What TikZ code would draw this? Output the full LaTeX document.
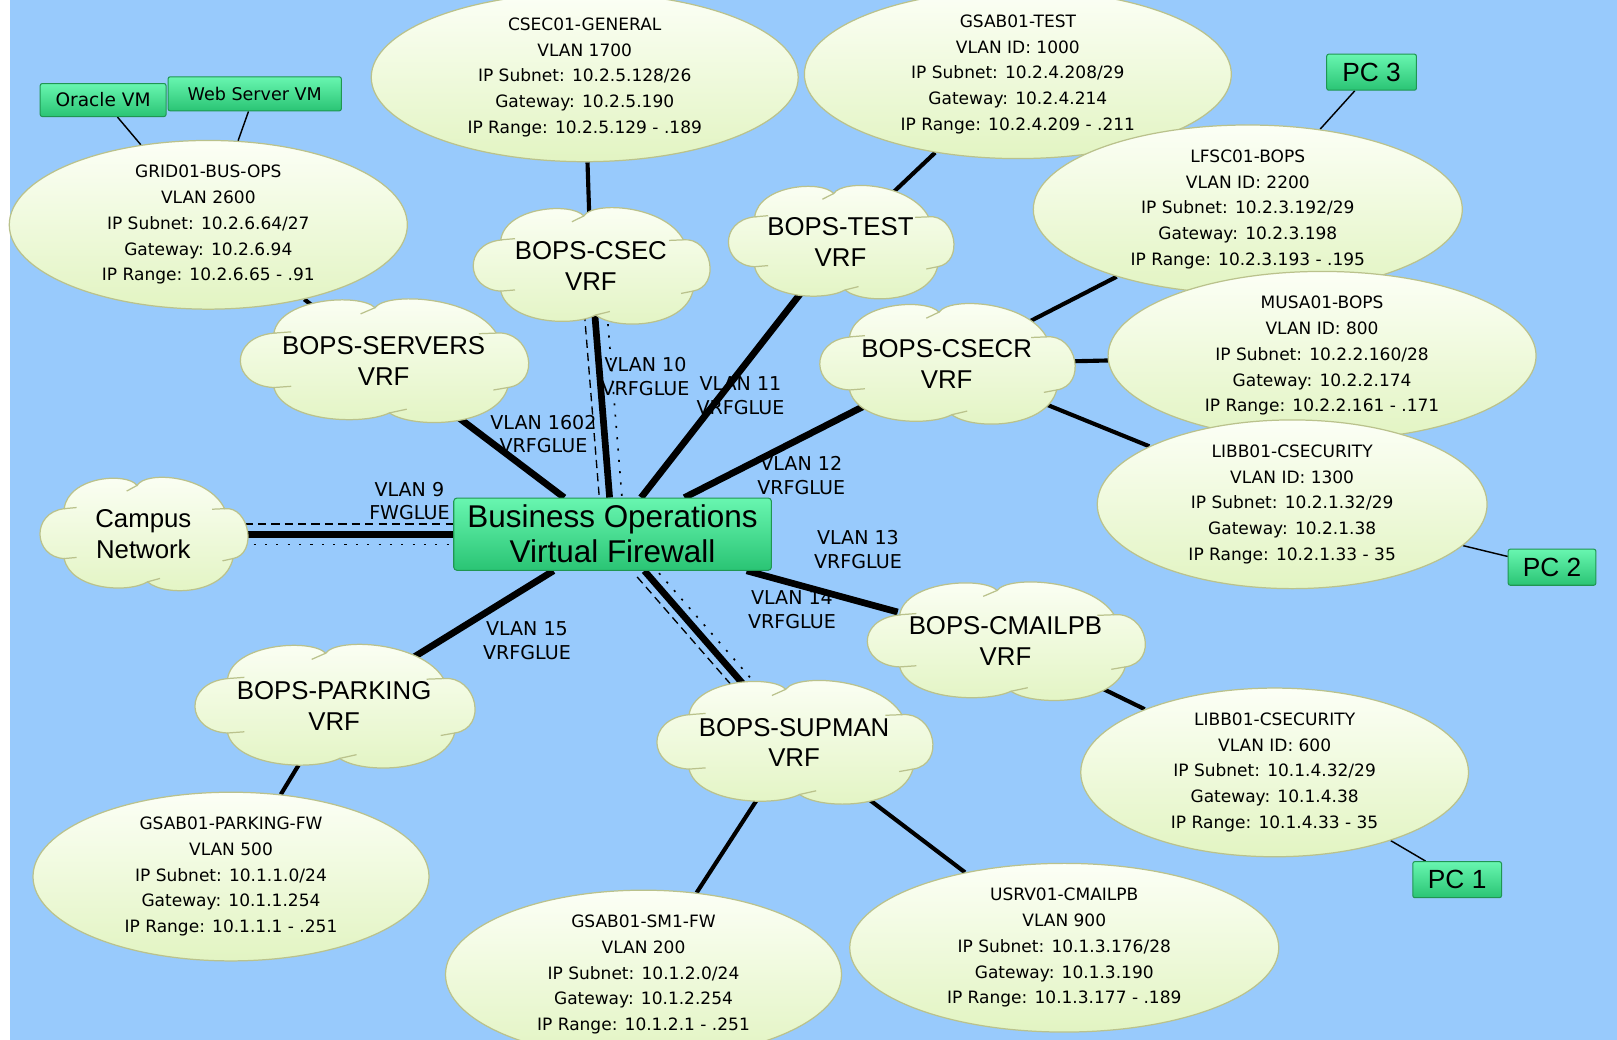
\documentclass[tikz,border=0pt]{standalone}
\usepackage{fontspec}
\setmainfont{Liberation Sans}
\newfontfamily\smallfont{DejaVu Sans}
\usetikzlibrary{shapes.geometric}
\definecolor{sky}{RGB}{152,202,252}
\definecolor{puffTop}{RGB}{252,255,246}
\definecolor{puffBot}{RGB}{226,244,194}
\definecolor{puffEdge}{RGB}{186,194,140}
\definecolor{fwTop}{RGB}{104,246,176}
\definecolor{fwBot}{RGB}{42,196,116}
\definecolor{fwEdge}{RGB}{32,150,82}
\pgfdeclarelayer{under}
\pgfsetlayers{under,main}
\tikzset{
  puff/.style={draw=puffEdge, line width=1.2pt, top color=puffTop, bottom color=puffBot},
  puffseam/.style={draw=puffEdge, line width=1.2pt},
  vrf/.style={ellipse, inner sep=0pt, align=center, font=\fontsize{25}{30}\selectfont},
  subnet/.style={ellipse, draw=puffEdge, line width=1.2pt, top color=puffTop,
    bottom color=puffBot, inner sep=0pt, align=center,
    font=\smallfont\fontsize{16.5}{25}\selectfont},
  gbox/.style={draw=fwEdge, line width=1pt, top color=fwTop, bottom color=fwBot,
    rounded corners=2pt, inner sep=0pt, align=center},
  glue/.style={line width=6.5pt},
  feed/.style={line width=4pt},
  wire/.style={line width=1.4pt},
  vlan/.style={align=center, font=\smallfont\fontsize{18.5}{23}\selectfont},
  dashside/.style={line width=1.3pt, dash pattern=on 8pt off 5pt},
  dotside/.style={line width=1.6pt, dash pattern=on 2pt off 9pt},
}
% six-puff cloud: name, x, y, width, height, label
\newcommand{\vrfcloud}[6]{%
  \path[puff, shift={(#2,#3)}, xscale=#4/2, yscale=#5/2]
    (-0.76,-0.45) .. controls (-0.72,-1.02) and (-0.16,-1.10) .. (-0.06,-0.86)
    .. controls (0.02,-1.12) and (0.62,-1.05) .. (0.78,-0.45)
    .. controls (1.02,-0.50) and (1.10,0.35) .. (0.86,0.43)
    .. controls (0.78,1.08) and (0.20,1.10) .. (0.04,0.84)
    .. controls (-0.15,1.05) and (-0.70,0.98) .. (-0.76,0.43)
    .. controls (-1.06,0.40) and (-1.08,-0.38) .. cycle;
  \path[puffseam, shift={(#2,#3)}, xscale=#4/2, yscale=#5/2]
    (-0.76,-0.45) -- (-0.64,-0.47)
    (-0.06,-0.86) -- (-0.16,-0.76)
    (0.78,-0.45) -- (0.66,-0.44)
    (0.86,0.43) -- (0.76,0.47)
    (0.04,0.84) -- (0.16,0.78)
    (-0.76,0.43) -- (-0.64,0.41);
  \node[vrf, minimum width=0.84*#4pt, minimum height=0.8*#5pt] (#1) at (#2,#3) {#6};
}
\begin{document}
\begin{tikzpicture}[x=1pt,y=-1pt]
\useasboundingbox (0,0) rectangle (1568,1008);

% firewall
\node[gbox, minimum width=308pt, minimum height=70pt, rounded corners=3pt,
  font=\fontsize{30.5}{34}\selectfont] (fw) at (594,518) {Business Operations\\Virtual Firewall};

% VRF clouds
\vrfcloud{campus}{139}{518}{202}{110}{Campus\\Network}
\vrfcloud{servers}{372}{350}{280}{120}{BOPS-SERVERS\\VRF}
\vrfcloud{csec}{573}{258}{230}{113}{BOPS-CSEC\\VRF}
\vrfcloud{test}{815}{235}{219}{110}{BOPS-TEST\\VRF}
\vrfcloud{csecr}{918}{353}{248}{117}{BOPS-CSECR\\VRF}
\vrfcloud{cmailpb}{975}{622}{270}{115}{BOPS-CMAILPB\\VRF}
\vrfcloud{supman}{770}{720}{268}{120}{BOPS-SUPMAN\\VRF}
\vrfcloud{parking}{324}{685}{272}{120}{BOPS-PARKING\\VRF}

% subnets
\node[subnet, minimum width=414pt, minimum height=134pt] (csecnet) at (567,75)
  {CSEC01-GENERAL\\VLAN 1700\\IP Subnet: 10.2.5.128/26\\Gateway: 10.2.5.190\\IP Range: 10.2.5.129 - .189};
\node[subnet, minimum width=414pt, minimum height=134pt] (testnet) at (987,72)
  {GSAB01-TEST\\VLAN ID: 1000\\IP Subnet: 10.2.4.208/29\\Gateway: 10.2.4.214\\IP Range: 10.2.4.209 - .211};
\node[subnet, minimum width=386pt, minimum height=140pt] (gridnet) at (202,218)
  {GRID01-BUS-OPS\\VLAN 2600\\IP Subnet: 10.2.6.64/27\\Gateway: 10.2.6.94\\IP Range: 10.2.6.65 - .91};
\node[subnet, minimum width=416pt, minimum height=137pt] (lfscnet) at (1210,203)
  {LFSC01-BOPS\\VLAN ID: 2200\\IP Subnet: 10.2.3.192/29\\Gateway: 10.2.3.198\\IP Range: 10.2.3.193 - .195};
\node[subnet, minimum width=415pt, minimum height=134pt] (musanet) at (1282,345)
  {MUSA01-BOPS\\VLAN ID: 800\\IP Subnet: 10.2.2.160/28\\Gateway: 10.2.2.174\\IP Range: 10.2.2.161 - .171};
\node[subnet, minimum width=378pt, minimum height=138pt] (libbhigh) at (1253,489)
  {LIBB01-CSECURITY\\VLAN ID: 1300\\IP Subnet: 10.2.1.32/29\\Gateway: 10.2.1.38\\IP Range: 10.2.1.33 - 35};
\node[subnet, minimum width=376pt, minimum height=138pt] (libblow) at (1236,749)
  {LIBB01-CSECURITY\\VLAN ID: 600\\IP Subnet: 10.1.4.32/29\\Gateway: 10.1.4.38\\IP Range: 10.1.4.33 - 35};
\node[subnet, minimum width=416pt, minimum height=138pt] (usrvnet) at (1032,919)
  {USRV01-CMAILPB\\VLAN 900\\IP Subnet: 10.1.3.176/28\\Gateway: 10.1.3.190\\IP Range: 10.1.3.177 - .189};
\node[subnet, minimum width=384pt, minimum height=140pt] (smnet) at (624,945)
  {GSAB01-SM1-FW\\VLAN 200\\IP Subnet: 10.1.2.0/24\\Gateway: 10.1.2.254\\IP Range: 10.1.2.1 - .251};
\node[subnet, minimum width=384pt, minimum height=135pt] (parknet) at (224,850)
  {GSAB01-PARKING-FW\\VLAN 500\\IP Subnet: 10.1.1.0/24\\Gateway: 10.1.1.254\\IP Range: 10.1.1.1 - .251};

% hosts
\node[gbox, minimum width=122pt, minimum height=32pt, font=\smallfont\fontsize{18}{20}\selectfont] (oracle) at (100,97) {Oracle VM};
\node[gbox, minimum width=168pt, minimum height=33pt, font=\smallfont\fontsize{17}{20}\selectfont] (websrv) at (247,91) {Web Server VM};
\node[gbox, minimum width=87pt, minimum height=35pt, font=\fontsize{25.5}{26}\selectfont] (pcthree) at (1330,70) {PC 3};
\node[gbox, minimum width=85pt, minimum height=35pt, font=\fontsize{25.5}{26}\selectfont] (pctwo) at (1505,550) {PC 2};
\node[gbox, minimum width=86pt, minimum height=35pt, font=\fontsize{25.5}{26}\selectfont] (pcone) at (1413,853) {PC 1};

\begin{pgfonlayer}{under}
  \fill[white] (0,0) rectangle (1568,1008);
  \fill[sky] (10,0) rectangle (1568,1008);

  % link labels (the links run over them)
  \node[vlan] (l9) at (397,486) {VLAN 9\\FWGLUE};
  \node[vlan] (l1602) at (527,421) {VLAN 1602\\VRFGLUE};
  \node[vlan] (l10) at (626,365) {VLAN 10\\VRFGLUE};
  \node[vlan] (l11) at (718,384) {VLAN 11\\VRFGLUE};
  \node[vlan] (l12) at (777,461) {VLAN 12\\VRFGLUE};
  \node[vlan] (l13) at (832,533) {VLAN 13\\VRFGLUE};
  \node[vlan] (l14) at (768,591) {VLAN 14\\VRFGLUE};
  \node[vlan] (l15) at (511,621) {VLAN 15\\VRFGLUE};

  % firewall uplinks
  \draw[glue] (campus) -- (fw);
  \draw[dashside, transform canvas={yshift=10pt}] (campus) -- (fw);
  \draw[dotside, transform canvas={yshift=-10pt}] (campus) -- (fw);
  \draw[glue] (servers) -- (fw);
  \draw[glue] (csec) -- (fw);
  \draw[dashside, transform canvas={xshift=-10pt}] (csec) -- (fw);
  \draw[dotside, transform canvas={xshift=12pt}] (csec) -- (fw);
  \draw[glue] (test) -- (fw);
  \draw[glue] (csecr) -- (fw);
  \draw[glue] (fw) -- (cmailpb);
  \draw[glue] (fw) -- (supman);
  \draw[dashside, transform canvas={xshift=-7pt,yshift=-6pt}] (fw) -- (supman);
  \draw[dotside, transform canvas={xshift=7pt,yshift=6pt}] (fw) -- (supman);
  \draw[glue] (fw) -- (parking);

  % VRF to subnet links
  \draw[feed] (servers) -- (gridnet);
  \draw[feed] (csec) -- (csecnet);
  \draw[feed] (test) -- (testnet);
  \draw[feed] (csecr) -- (lfscnet);
  \draw[feed] (csecr) -- (musanet);
  \draw[feed] (csecr) -- (libbhigh);
  \draw[feed] (cmailpb) -- (libblow);
  \draw[feed] (supman) -- (smnet);
  \draw[feed] (supman) -- (usrvnet);
  \draw[feed] (parking) -- (parknet);

  % hosts
  \draw[wire] (oracle) -- (gridnet);
  \draw[wire] (websrv) -- (gridnet);
  \draw[wire] (pcthree) -- (lfscnet);
  \draw[wire] (pctwo) -- (libbhigh);
  \draw[wire] (pcone) -- (libblow);
\end{pgfonlayer}
\end{tikzpicture}
\end{document}
